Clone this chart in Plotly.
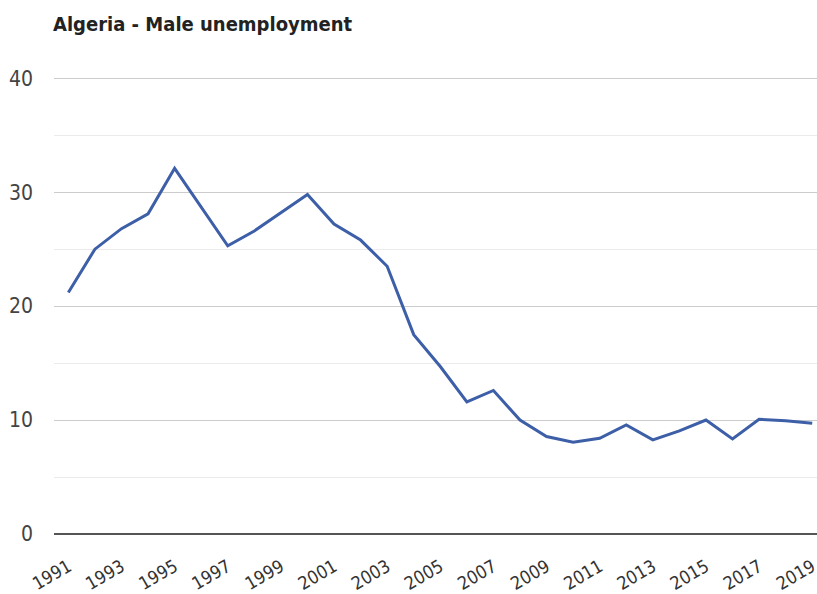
import plotly.graph_objects as go

# Algeria: male unemployment rate (%), 1991-2019
years = list(range(1991, 2020))
male_unemployment = [
    21.2, 25.0, 26.8, 28.1, 32.1, 28.7, 25.3, 26.6, 28.2, 29.8,
    27.2, 25.8, 23.5, 17.5, 14.7, 11.6, 12.6, 10.0, 8.55, 8.05,
    8.4, 9.57, 8.26, 9.05, 10.0, 8.35, 10.07, 9.95, 9.72,
]
year_ticks = list(range(1991, 2020, 2))
y_ticks = [0, 10, 20, 30, 40]

FONT = "Liberation Sans Narrow, DejaVu Sans Condensed, DejaVu Sans, sans-serif"

fig = go.Figure()
fig.add_trace(go.Scatter(
    x=years,
    y=male_unemployment,
    mode="lines",
    line=dict(color="#3d5fa8", width=3),
    hoverinfo="x+y",
    showlegend=False,
))

fig.update_layout(
    width=817,
    height=594,
    margin=dict(l=54, r=0, t=76, b=60),
    paper_bgcolor="white",
    plot_bgcolor="white",
    title=dict(
        text="<b>Algeria - Male unemployment</b>",
        x=53 / 817, xanchor="left",
        y=1 - 24 / 594, yanchor="middle",
        font=dict(family=FONT, size=20, color="#222222"),
    ),
    xaxis=dict(
        range=[1990.46, 2019.18],
        tickmode="array",
        tickvals=year_ticks,
        ticktext=[str(y) for y in year_ticks],
        tickangle=-30,
        tickfont=dict(family=FONT, size=18, color="#333333"),
        ticklabeloverflow="allow",
        ticklabelstandoff=18,
        automargin=False,
        showgrid=False,
        zeroline=False,
        showline=False,
        ticks="",
    ),
    yaxis=dict(
        range=[0, 40.2],
        tickmode="array",
        tickvals=y_ticks,
        tickfont=dict(family=FONT, size=21, color="#444444"),
        automargin=False,
        showgrid=True,
        gridcolor="#cccccc",
        gridwidth=1,
        minor=dict(dtick=5, showgrid=True, gridcolor="#ebebeb", gridwidth=1),
        zeroline=True,
        zerolinecolor="#555555",
        zerolinewidth=2,
        showline=False,
        ticklabelstandoff=20,
    ),
)

# narrow letterforms for every text element of the chart
condensed_css = (
    "var s=document.createElement('style');"
    "s.textContent='.main-svg text{font-stretch:condensed !important;}';"
    "document.head.appendChild(s);"
)
fig.write_html("out.html", post_script=condensed_css)
